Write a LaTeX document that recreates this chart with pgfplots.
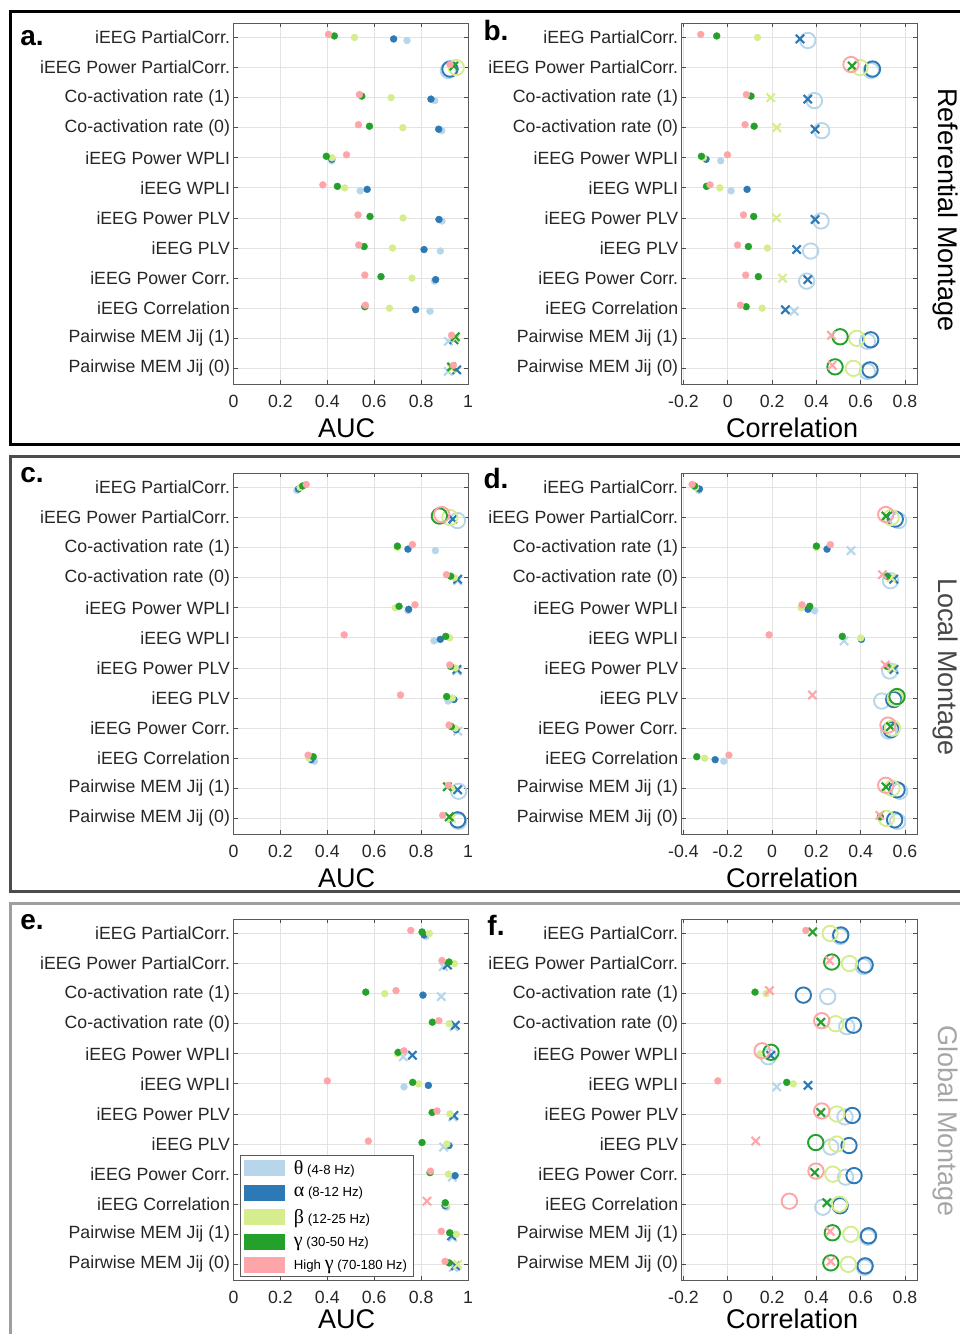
\documentclass[border=0pt]{standalone}
\usepackage{pgfplots}
\pgfplotsset{compat=1.18}
\usepackage{pgfplotstable}
\usepackage{fontspec}
\setmainfont{Liberation Sans}
\newfontfamily\grk{Liberation Serif}
\definecolor{cTh}{HTML}{B7D6EA}
\definecolor{cAl}{HTML}{2C79B5}
\definecolor{cBe}{HTML}{D6ED8E}
\definecolor{cGa}{HTML}{23A12A}
\definecolor{cHg}{HTML}{FDA5A8}

% columns: r = row (0 = top), b = band (0 theta,1 alpha,2 beta,3 gamma,4 high gamma), v = value, c = class (band + marker: 0 dot, 1 cross, 2 circle)
\pgfplotstableread{
r b v c
0 0 0.740 T0
0 1 0.683 A0
0 2 0.516 B0
0 3 0.430 G0
0 4 0.405 H0
1 0 0.916 T2
1 1 0.923 A2
1 2 0.950 B2
1 3 0.940 G1
1 4 0.923 H0
2 0 0.858 T0
2 1 0.842 A0
2 2 0.672 B0
2 3 0.547 G0
2 4 0.537 H0
3 0 0.888 T0
3 1 0.875 A0
3 2 0.722 B0
3 3 0.580 G0
3 4 0.533 H0
4 0 0.419 T0
4 1 0.419 A0
4 2 0.420 B0
4 3 0.396 G0
4 4 0.482 H0
5 0 0.540 T0
5 1 0.570 A0
5 2 0.474 B0
5 3 0.443 G0
5 4 0.381 H0
6 0 0.889 T0
6 1 0.876 A0
6 2 0.723 B0
6 3 0.582 G0
6 4 0.531 H0
7 0 0.882 T0
7 1 0.8125 A0
7 2 0.678 B0
7 3 0.557 G0
7 4 0.534 H0
8 0 0.857 T0
8 1 0.862 A0
8 2 0.761 B0
8 3 0.629 G0
8 4 0.560 H0
9 0 0.838 T0
9 1 0.777 A0
9 2 0.665 B0
9 3 0.560 G0
9 4 0.5625 H0
10 0 0.916 T1
10 1 0.940 A1
10 2 0.946 B1
10 3 0.946 G1
10 4 0.930 H0
11 0 0.916 T1
11 1 0.952 A1
11 2 0.930 B1
11 3 0.930 G1
11 4 0.9375 H0
}\tabA

\pgfplotstableread{
r b v c
0 0 0.361 T2
0 1 0.326 A1
0 2 0.134 B0
0 3 -0.050 G0
0 4 -0.122 H0
1 0 0.647 T2
1 1 0.653 A2
1 2 0.597 B2
1 3 0.561 G1
1 4 0.556 H2
2 0 0.391 T2
2 1 0.361 A1
2 2 0.194 B1
2 3 0.105 G0
2 4 0.084 H0
3 0 0.424 T2
3 1 0.394 A1
3 2 0.221 B1
3 3 0.119 G0
3 4 0.078 H0
4 0 -0.032 T0
4 1 -0.098 A0
4 2 -0.110 B0
4 3 -0.119 G0
4 4 -0.0015 H0
5 0 0.015 T0
5 1 0.087 A0
5 2 -0.036 B0
5 3 -0.096 G0
5 4 -0.080 H0
6 0 0.421 T2
6 1 0.394 A1
6 2 0.220 B1
6 3 0.117 G0
6 4 0.071 H0
7 0 0.374 T2
7 1 0.311 A1
7 2 0.179 B0
7 3 0.093 G0
7 4 0.044 H0
8 0 0.356 T2
8 1 0.361 A1
8 2 0.247 B1
8 3 0.138 G0
8 4 0.081 H0
9 0 0.300 T1
9 1 0.260 A1
9 2 0.155 B0
9 3 0.083 G0
9 4 0.057 H0
10 0 0.630 T2
10 1 0.645 A2
10 2 0.582 B2
10 3 0.507 G2
10 4 0.468 H1
11 0 0.630 T2
11 1 0.642 A2
11 2 0.567 B2
11 3 0.484 G2
11 4 0.471 H1
}\tabB

\pgfplotstableread{
r b v c
0 0 0.270 T0
0 1 0.277 A0
0 2 0.284 B0
0 3 0.295 G0
0 4 0.310 H0
1 0 0.955 T2
1 1 0.935 A1
1 2 0.923 B2
1 3 0.878 G2
1 4 0.888 H2
2 0 0.861 T0
2 1 0.744 A0
2 2 0.699 B0
2 3 0.699 G0
2 4 0.763 H0
3 0 0.956 T1
3 1 0.956 A1
3 2 0.942 B0
3 3 0.926 G0
3 4 0.908 H0
4 0 0.744 T0
4 1 0.747 A0
4 2 0.690 B0
4 3 0.706 G0
4 4 0.774 H0
5 0 0.855 T0
5 1 0.882 A0
5 2 0.922 B0
5 3 0.905 G0
5 4 0.472 H0
6 0 0.953 T1
6 1 0.953 A1
6 2 0.946 B0
6 3 0.926 G0
6 4 0.922 H0
7 0 0.915 T0
7 1 0.940 A0
7 2 0.933 B0
7 3 0.909 G0
7 4 0.712 H0
8 0 0.956 T1
8 1 0.949 A0
8 2 0.946 B0
8 3 0.929 G0
8 4 0.919 H0
9 0 0.345 T0
9 1 0.331 A0
9 2 0.322 B0
9 3 0.340 G0
9 4 0.318 H0
10 0 0.960 T2
10 1 0.956 A1
10 2 0.930 B0
10 3 0.912 G1
10 4 0.916 H0
11 0 0.960 T2
11 1 0.956 A2
11 2 0.930 B1
11 3 0.920 G1
11 4 0.892 H0
}\tabC

\pgfplotstableread{
r b v c
0 0 -0.331 T0
0 1 -0.328 A0
0 2 -0.346 B0
0 3 -0.350 G0
0 4 -0.361 H0
1 0 0.571 T2
1 1 0.556 A2
1 2 0.537 B2
1 3 0.514 G1
1 4 0.513 H2
2 0 0.356 T1
2 1 0.248 A0
2 2 0.200 B0
2 3 0.200 G0
2 4 0.263 H0
3 0 0.534 T2
3 1 0.549 A1
3 2 0.537 B1
3 3 0.519 G0
3 4 0.498 H1
4 0 0.192 T0
4 1 0.162 A0
4 2 0.131 B0
4 3 0.170 G0
4 4 0.135 H0
5 0 0.325 T1
5 1 0.403 A0
5 2 0.400 B0
5 3 0.317 G0
5 4 -0.0135 H0
6 0 0.531 T2
6 1 0.550 A1
6 2 0.541 B1
6 3 0.519 G0
6 4 0.511 H1
7 0 0.495 T2
7 1 0.549 A2
7 2 0.556 B2
7 3 0.564 G2
7 4 0.182 H1
8 0 0.526 T2
8 1 0.537 A2
8 2 0.543 B2
8 3 0.534 G1
8 4 0.523 H2
9 0 -0.218 T0
9 1 -0.257 A0
9 2 -0.304 B0
9 3 -0.340 G0
9 4 -0.195 H0
10 0 0.576 T2
10 1 0.564 A2
10 2 0.541 B2
10 3 0.514 G1
10 4 0.513 H2
11 0 0.567 T2
11 1 0.553 A2
11 2 0.516 B2
11 3 0.489 G0
11 4 0.486 H1
}\tabD

\pgfplotstableread{
r b v c
0 0 0.821 T0
0 1 0.8125 A0
0 2 0.835 B0
0 3 0.804 G0
0 4 0.756 H0
1 0 0.895 T1
1 1 0.912 A1
1 2 0.942 B0
1 3 0.919 G0
1 4 0.889 H0
2 0 0.886 T1
2 1 0.808 A0
2 2 0.645 B0
2 3 0.564 G0
2 4 0.693 H0
3 0 0.940 T1
3 1 0.946 A1
3 2 0.919 B0
3 3 0.848 G0
3 4 0.876 H0
4 0 0.724 T1
4 1 0.763 A1
4 2 0.699 B0
4 3 0.702 G0
4 4 0.727 H0
5 0 0.727 T0
5 1 0.831 A0
5 2 0.790 B0
5 3 0.764 G0
5 4 0.400 H0
6 0 0.935 T1
6 1 0.940 A1
6 2 0.923 B0
6 3 0.847 G0
6 4 0.868 H0
7 0 0.896 T1
7 1 0.919 A0
7 2 0.910 B0
7 3 0.804 G0
7 4 0.575 H0
8 0 0.933 T1
8 1 0.945 A0
8 2 0.916 B0
8 3 0.838 G0
8 4 0.840 H0
9 0 0.909 T0
9 1 0.902 A0
9 2 0.906 B0
9 3 0.903 G0
9 4 0.825 H1
10 0 0.935 T1
10 1 0.930 A1
10 2 0.950 B0
10 3 0.922 G0
10 4 0.886 H0
11 0 0.9375 T1
11 1 0.947 A1
11 2 0.956 B1
11 3 0.919 G0
11 4 0.902 H0
}\tabE

\pgfplotstableread{
r b v c
0 0 0.507 T2
0 1 0.510 A2
0 2 0.462 B2
0 3 0.383 G1
0 4 0.352 H0
1 0 0.612 T2
1 1 0.620 A2
1 2 0.549 B2
1 3 0.469 G2
1 4 0.459 H1
2 0 0.451 T2
2 1 0.341 A2
2 2 0.173 B0
2 3 0.123 G0
2 4 0.188 H1
3 0 0.537 T2
3 1 0.567 A2
3 2 0.487 B2
3 3 0.420 G1
3 4 0.424 H2
4 0 0.183 T2
4 1 0.194 A1
4 2 0.146 B0
4 3 0.195 G2
4 4 0.155 H2
5 0 0.221 T1
5 1 0.362 A1
5 2 0.296 B0
5 3 0.266 G0
5 4 -0.045 H0
6 0 0.529 T2
6 1 0.562 A2
6 2 0.492 B2
6 3 0.420 G1
6 4 0.424 H2
7 0 0.465 T2
7 1 0.547 A2
7 2 0.492 B2
7 3 0.397 G2
7 4 0.126 H1
8 0 0.532 T2
8 1 0.570 A2
8 2 0.474 B2
8 3 0.392 G1
8 4 0.398 H2
9 0 0.429 T2
9 1 0.507 A2
9 2 0.504 B2
9 3 0.447 G1
9 4 0.278 H2
10 0 0.632 T2
10 1 0.635 A2
10 2 0.555 B2
10 3 0.472 G2
10 4 0.462 H1
11 0 0.617 T2
11 1 0.620 A2
11 2 0.544 B2
11 3 0.465 G2
11 4 0.465 H1
}\tabF

\tikzset{
  mdot/.style={mark=*, #1, mark size=3.5pt, line width=0.3pt, mark options={line width=0.3pt}},
  mcross/.style={mark=x, #1, mark size=5.9pt, line width=2.1pt, mark options={line width=2.1pt}},
  mcirc/.style={mark=o, #1, mark size=7.7pt, line width=1.9pt, mark options={line width=1.9pt}},
}
\pgfplotsset{
  panel/.style={
    scale only axis, height=361pt,
    y dir=reverse, ymin=-0.48, ymax=11.52,
    ytick={0,...,11},
    yticklabels={iEEG PartialCorr.,iEEG Power PartialCorr.,Co-activation rate (1),Co-activation rate (0),iEEG Power WPLI,iEEG WPLI,iEEG Power PLV,iEEG PLV,iEEG Power Corr.,iEEG Correlation,Pairwise MEM Jij (1),Pairwise MEM Jij (0)},
    grid=major, major grid style={line width=0.8pt, black!11},
    axis line style={black!65, line width=0.9pt},
    tick align=inside, major tick length=4pt,
    tick style={black!70, line width=0.8pt},
    tick label style={font=\fontsize{17.7}{20}\selectfont, text=black!85},
    xticklabel style={yshift=-8pt},
    /pgf/number format/assume math mode=true,
    xlabel style={font=\fontsize{27}{30}\selectfont, text=black, anchor=center},
    clip=false,
  },
  auc/.style={panel, width=234.5pt, xmin=0, xmax=1, xtick={0,0.2,0.4,0.6,0.8,1},
    xlabel={AUC}, xlabel style={at={(axis description cs:0.482,0)}, yshift=-44pt}},
  cor/.style={panel, width=235.3pt, xlabel={Correlation},
    xlabel style={at={(axis description cs:0.469,0)}, yshift=-44pt}},
  dots/.style={only marks, scatter, scatter src=explicit symbolic, forget plot,
    scatter/classes={
      T0={mdot=cTh}, T1={mcross=cTh}, T2={mcirc=cTh},
      A0={mdot=cAl}, A1={mcross=cAl}, A2={mcirc=cAl},
      B0={mdot=cBe}, B1={mcross=cBe}, B2={mcirc=cBe},
      G0={mdot=cGa}, G1={mcross=cGa}, G2={mcirc=cGa},
      H0={mdot=cHg}, H1={mcross=cHg}, H2={mcirc=cHg}}},
}
\newcommand{\pts}[1]{\addplot[dots] table[x=v, y expr={\thisrow{r}+0.1-0.05*\thisrow{b}}, meta=c] {#1};}
\newcommand{\gk}[1]{{\grk\fontsize{20}{20}\selectfont #1}}
\newcommand{\lgimg}[1]{\addlegendimage{legend image code/.code={\fill[#1] (0pt,-7.5pt) rectangle (40pt,7.5pt);}}}

\begin{document}
\begin{tikzpicture}
\useasboundingbox (0pt,0pt) rectangle (960pt,-1334pt);
% frames
\draw[line width=3pt, black] (10.7pt,-11pt) rectangle (990pt,-444.3pt);
\draw[line width=3pt, black!70] (10.7pt,-456.7pt) rectangle (990pt,-891pt);
\draw[line width=3pt, black!38] (10.7pt,-903pt) rectangle (990pt,-1360pt);

% row 1
\begin{axis}[auc, at={(233.5pt,-23pt)}, anchor=north west]
\pts{\tabA}
\end{axis}
\begin{axis}[cor, at={(681.7pt,-23pt)}, anchor=north west, xmin=-0.208, xmax=0.854, xtick={-0.2,0,0.2,0.4,0.6,0.8}]
\pts{\tabB}
\end{axis}
% row 2
\begin{axis}[auc, at={(233.5pt,-473pt)}, anchor=north west]
\pts{\tabC}
\end{axis}
\begin{axis}[cor, at={(681.7pt,-473pt)}, anchor=north west, xmin=-0.408, xmax=0.654, xtick={-0.4,-0.2,0,0.2,0.4,0.6}]
\pts{\tabD}
\end{axis}
% row 3
\begin{axis}[auc, at={(233.5pt,-919pt)}, anchor=north west, xlabel style={yshift=5pt},
  legend style={at={(0.026,0.01)}, anchor=south west, draw=black!65, line width=0.9pt,
    fill=white, inner xsep=4pt, inner ysep=3pt, row sep=7pt, cells={anchor=west},
    font=\fontsize{13.2}{15}\selectfont}]
\lgimg{cTh}\lgimg{cAl}\lgimg{cBe}\lgimg{cGa}\lgimg{cHg}
\addlegendentry{\hspace{7pt}\gk{θ} (4-8 Hz)}
\addlegendentry{\hspace{7pt}\gk{α} (8-12 Hz)}
\addlegendentry{\hspace{7pt}\gk{β} (12-25 Hz)}
\addlegendentry{\hspace{7pt}\gk{γ} (30-50 Hz)}
\addlegendentry{\hspace{7pt}High \gk{γ} (70-180 Hz)}
\pts{\tabE}
\end{axis}
\begin{axis}[cor, at={(681.7pt,-919pt)}, anchor=north west, xlabel style={yshift=5pt}, xmin=-0.208, xmax=0.854, xtick={-0.2,0,0.2,0.4,0.6,0.8}]
\pts{\tabF}
\end{axis}

% panel letters
\foreach \l/\x/\y in {a/32/38, b/496/30, c/32/475, d/496/478, e/32/922, f/496/925}
  \node[font=\fontsize{28}{30}\selectfont\bfseries] at (\x pt,-\y pt) {\l.};
% montage labels
\node[rotate=-90, font=\fontsize{27}{30}\selectfont, text=black] at (945pt,-210pt) {Referential Montage};
\node[rotate=-90, font=\fontsize{27}{30}\selectfont, text=black!72] at (945pt,-667pt) {Local Montage};
\node[rotate=-90, font=\fontsize{27}{30}\selectfont, text=black!35] at (945pt,-1121pt) {Global Montage};
\end{tikzpicture}
\end{document}
